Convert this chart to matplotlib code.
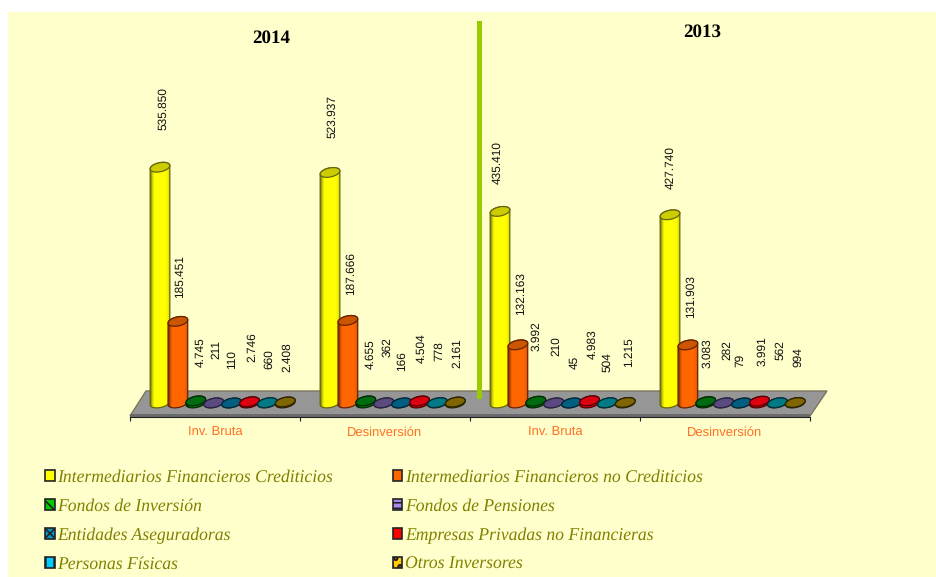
import numpy as np
import matplotlib
matplotlib.use('Agg')
import matplotlib.pyplot as plt
from matplotlib.colors import LinearSegmentedColormap
from matplotlib.patches import Patch, Polygon, Rectangle

plt.rcParams['text.hinting'] = 'no_hinting'
plt.rcParams['text.hinting_factor'] = 8
plt.rcParams['hatch.linewidth'] = 1.2

series_names = ['Intermediarios Financieros Crediticios', 'Intermediarios Financieros no Crediticios',
                'Fondos de Inversión', 'Fondos de Pensiones',
                'Entidades Aseguradoras', 'Empresas Privadas no Financieras',
                'Personas Físicas', 'Otros Inversores']
group_names = ['Inv. Bruta', 'Desinversión', 'Inv. Bruta', 'Desinversión']
years = ['2014', '2013']

bruta_2014 = [535850, 185451, 4745, 211, 110, 2746, 660, 2408]
desinv_2014 = [523937, 187666, 4655, 362, 166, 4504, 778, 2161]
bruta_2013 = [435410, 132163, 3992, 210, 45, 4983, 504, 1215]
desinv_2013 = [427740, 131903, 3083, 282, 79, 3991, 562, 994]
groups = [bruta_2014, desinv_2014, bruta_2013, desinv_2013]

# gap in pixels between the top of each cylinder and its label
label_gaps = [[37, 23, 34, 44, 34, 40, 34, 30],
              [34, 25, 32, 46, 32, 38, 42, 34],
              [27, 30, 50, 47, 34, 42, 31, 35],
              [26, 27, 34, 43, 36, 35, 43, 36]]
# sideways shift of each label from the cylinder centre, pixels
label_shifts = [[3, 2, 5, 3, 0, 3, 2, 2],
                [2, 3, 5, 4, 0, 2, 2, 2],
                [-3, 3, 1, 2, 3, 2.5, 0, 4],
                [0, 3, 2, 3, -1.5, 2.5, 2.5, 3]]

side_colors = ['#FFFF00', '#FF6600', '#007A10', '#5E4C86', '#006080', '#D80010', '#007C88', '#806600']
cap_colors = ['#CCCC00', '#CC5500', '#006B10', '#5A4A80', '#005F80', '#DD0010', '#007A85', '#7F6600']
edge_colors = ['#666610', '#662200', '#002A00', '#2A2240', '#00283A', '#550000', '#003038', '#2A2200']
key_colors = ['#FFFF00', '#FF6600', '#00CC00', '#AA88EE', '#0099CC', '#FF0000', '#00CCFF', '#FFCC00']
key_hatches = [None, None, '\\\\\\', '---', 'xx', None, '||', 'oo']

BG = '#FFFFCC'
PX_PER_UNIT = 0.00044
BASE_PX = 403
AXIS_PX = 417
SLOT_PX = 17.9
FIRST_PX = 30
GROUP_PX = 170
CAP_A, CAP_B, CAP_TILT = 10.0, 4.5, np.radians(12)


def cyl_points(cx, base, t):
    # tilted ellipse, x in pixels from axis start, y in pixels above base
    x = cx + CAP_A * np.cos(t) * np.cos(CAP_TILT) - CAP_B * np.sin(t) * np.sin(CAP_TILT)
    y = base + CAP_A * np.cos(t) * np.sin(CAP_TILT) + CAP_B * np.sin(t) * np.cos(CAP_TILT)
    return x, y


def draw_cylinder(ax, group, slot, value, gap, shift):
    cx = group * GROUP_PX + FIRST_PX + slot * SLOT_PX
    top = value * PX_PER_UNIT
    t0 = np.arctan(-(CAP_B / CAP_A) * np.tan(CAP_TILT))
    low = np.linspace(t0 + np.pi, t0 + 2 * np.pi, 40)
    up = np.linspace(t0, t0 + np.pi, 40)
    x1, y1 = cyl_points(cx, 0, low)
    x2, y2 = cyl_points(cx, top, up)
    body = np.column_stack([np.r_[x1, x2], np.r_[y1, y2] / PX_PER_UNIT])
    z = 3 + group + slot * 0.05
    patch = Polygon(body, closed=True, facecolor='none', edgecolor=edge_colors[slot], lw=0.9, zorder=z + 0.02)
    ax.add_patch(patch)
    color = side_colors[slot]
    cmap = LinearSegmentedColormap.from_list('c', [edge_colors[slot], color])
    shade = np.array([[0.2, 0.75, 1, 1, 1, 1, 1, 1, 1, 0.95, 0.75]])
    img = ax.imshow(shade, extent=[cx - 10, cx + 10, body[:, 1].min(), body[:, 1].max()],
                    cmap=cmap, vmin=0, vmax=1, aspect='auto', interpolation='bilinear', zorder=z)
    img.set_clip_path(patch)
    tt = np.linspace(0, 2 * np.pi, 60)
    xc, yc = cyl_points(cx, top, tt)
    ax.add_patch(Polygon(np.column_stack([xc, yc / PX_PER_UNIT]), closed=True, facecolor=cap_colors[slot],
                         edgecolor=edge_colors[slot], lw=0.9, zorder=z + 0.03))
    label = f'{value:,}'.replace(',', '.')
    ax.text(cx + shift, value + gap / PX_PER_UNIT, label, rotation=90, ha='center', va='bottom',
            family='Liberation Sans', fontsize=8.6, color='#111111', zorder=20)


fig = plt.figure(figsize=(9.37, 5.77), dpi=100, facecolor='white')

# background layer in image pixels
bg = fig.add_axes([0, 0, 1, 1], zorder=0)
bg.set_xlim(0, 937)
bg.set_ylim(577, 0)
bg.axis('off')
bg.add_patch(Rectangle((8, 12), 929, 565, facecolor=BG, edgecolor='none'))
bg.add_patch(Polygon([(130, 416), (146, 391), (827, 391), (810, 416)], closed=True,
                     facecolor='#969696', edgecolor='#77775A', lw=1))
bg.add_patch(Rectangle((130, 414), 680, 3, facecolor='#6A6A6A', edgecolor='none'))
bg.add_patch(Rectangle((477, 21), 5, 378, facecolor='#99CC00', edgecolor='none', zorder=4))
bg.text(271, 38, years[0], family='Liberation Serif', weight='bold', fontsize=13.7, ha='center', va='center', color='black')
bg.text(702, 32, years[1], family='Liberation Serif', weight='bold', fontsize=13.7, ha='center', va='center', color='black')

# data layer, x counted in pixels from the first tick, y in series values
ax = fig.add_axes([130 / 937, (577 - AXIS_PX) / 577, 680 / 937, (AXIS_PX - 12) / 577], zorder=1)
ax.patch.set_visible(False)
for name in ['top', 'left', 'right']:
    ax.spines[name].set_visible(False)
ax.spines['bottom'].set_color('#222222')
ax.spines['bottom'].set_linewidth(0.8)

for g, values in enumerate(groups):
    for s, value in enumerate(values):
        draw_cylinder(ax, g, s, value, label_gaps[g][s], label_shifts[g][s])

ax.set_xlim(0, 680)
ax.set_ylim((BASE_PX - AXIS_PX) / PX_PER_UNIT, (BASE_PX - 12) / PX_PER_UNIT)
ax.set_yticks([])
ax.set_xticks([i * GROUP_PX for i in range(5)])
ax.set_xticklabels([])
ax.set_xticks([(i + 0.5) * GROUP_PX for i in range(4)], minor=True)
ax.set_xticklabels(group_names, minor=True, family='Liberation Sans', fontsize=9.4, color='#FF6F21')
ax.tick_params(axis='x', which='major', length=3, width=0.8, color='#222222')
ax.tick_params(axis='x', which='minor', length=0, pad=7)

handles = [Patch(facecolor=key_colors[i], edgecolor='#222222', hatch=key_hatches[i], lw=1.2) for i in range(8)]
order = [0, 2, 4, 6, 1, 3, 5, 7]
leg = ax.legend([handles[i] for i in order], [series_names[i] for i in order], ncol=2,
                loc='upper left', bbox_to_anchor=(45, 469.5), bbox_transform=bg.transData,
                frameon=False, borderpad=0, borderaxespad=0,
                prop={'family': 'Liberation Serif', 'style': 'italic', 'size': 12.7},
                labelcolor='#808000', handlelength=0.55, handleheight=0.55, handletextpad=0.15,
                labelspacing=0.72, columnspacing=3.38)

fig.savefig('out.png', dpi=100, facecolor='white')
